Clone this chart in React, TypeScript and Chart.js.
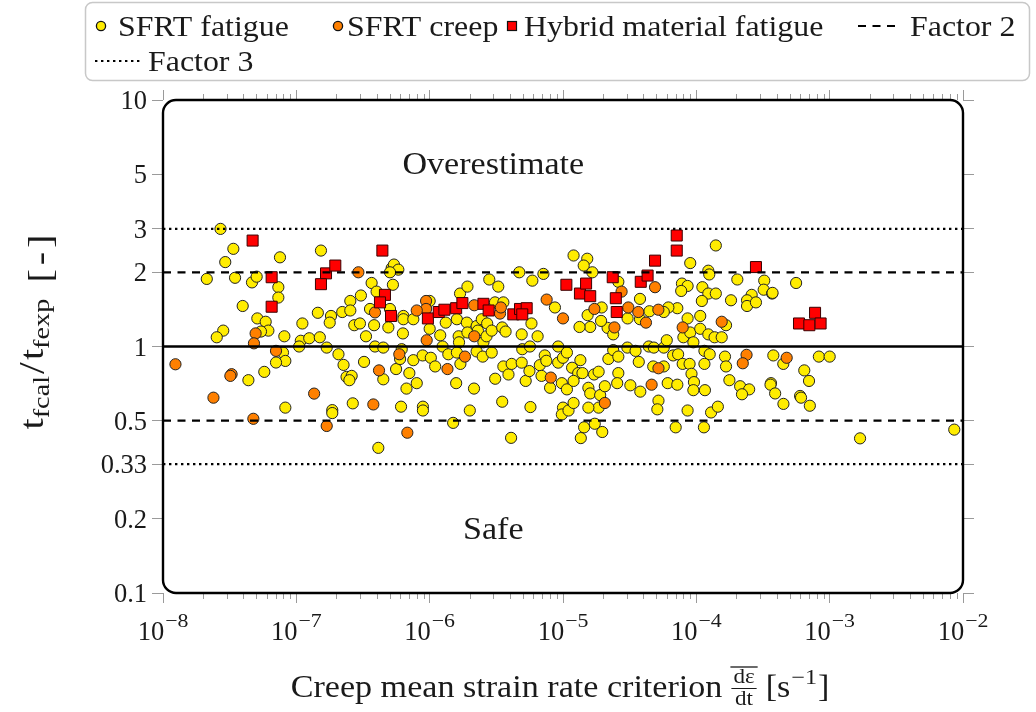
import React, { useEffect, useRef } from 'react';
import { Chart, registerables } from 'chart.js';

Chart.register(...registerables);

// ---------------- data ----------------
const fatigueX = [
  2.7e-8, 3.37e-8, 2.93e-8, 2.13e-8, 3.47e-8, 4.65e-8, 5.04e-8, 7.54e-8, 1.53e-7, 7.33e-8,
  7.33e-8, 3.96e-8, 5.1e-8, 5.89e-8, 6.17e-8, 5.43e-8, 2.83e-8, 2.53e-8, 8.13e-8, 1.11e-7,
  1.45e-7, 1.82e-7, 1.78e-7, 2.21e-7, 2.54e-7, 2.54e-7, 3.05e-7, 2.72e-7, 3.0e-7, 1.08e-7,
  1.25e-7, 1.5e-7, 1.05e-7, 1.69e-7, 2.07e-7, 2.26e-7, 2.38e-7, 2.6e-7, 2.5e-7, 7.94e-8,
  8.27e-8, 7.04e-8, 5.75e-8, 4.37e-8, 8.27e-8, 1.86e-7, 1.86e-7, 2.65e-7,
  3.33e-7, 3.22e-7, 3.67e-7, 4.0e-7, 3.57e-7, 3.83e-7, 3.89e-7, 4.49e-7, 4.49e-7, 4.12e-7,
  5.19e-7, 5.4e-7, 5.82e-7, 5.04e-7, 5.3e-7, 5.04e-7, 4.9e-7, 5.6e-7, 6.17e-7, 6.0e-7,
  6.35e-7, 6.35e-7, 6.3e-7, 6.1e-7, 7.04e-7, 6.7e-7, 7.54e-7, 8.0e-7, 7.54e-7, 8.86e-7,
  8.9e-7, 8.9e-7, 1.02e-6, 1.1e-6, 1.0e-6, 1.0e-6, 1.2e-6, 1.25e-6, 1.32e-6, 1.38e-6,
  1.5e-6, 1.58e-6, 1.65e-6, 1.66e-6, 1.6e-6, 1.7e-6, 1.6e-6, 1.69e-6, 1.92e-6, 1.9e-6,
  1.92e-6, 2.0e-6, 2.15e-6, 2.25e-6, 2.25e-6, 2.3e-6, 2.46e-6, 2.53e-6, 2.5e-6, 2.67e-6,
  2.7e-6, 2.8e-6, 2.92e-6, 2.92e-6, 3.09e-6, 3.1e-6, 3.27e-6, 3.57e-6, 3.5e-6, 3.71e-6,
  3.5e-6, 3.57e-6, 3.9e-6, 4.12e-6, 4.08e-6, 4.7e-6, 4.9e-6, 4.95e-6, 4.9e-6, 5.25e-6,
  5.6e-6, 5.65e-6, 5.7e-6, 5.8e-6, 5.89e-6, 6.45e-6, 6.7e-6, 6.9e-6, 7.13e-6, 7.3e-6,
  7.5e-6, 8.0e-6, 8.7e-6, 9.2e-6, 9.2e-6, 9.8e-6, 1.0e-5, 9.8e-6, 1.0e-5, 1.07e-5,
  1.1e-5, 1.07e-5,
  1.2e-5, 1.52e-5, 1.43e-5, 1.66e-5, 2.6e-5, 1.4e-4, 9.0e-5, 1.23e-4, 1.25e-4, 2.03e-4,
  3.23e-4, 3.2e-4, 3.7e-4, 2.6e-4, 2.4e-4, 2.4e-4, 2.8e-4, 1.82e-4, 1.11e-4, 1.23e-4,
  1.4e-4, 1.1e-4, 7.8e-5, 8.6e-5, 7.7e-5, 1.07e-4, 8.6e-5, 7.2e-5, 6.17e-5, 5.7e-5,
  4.45e-5, 3.78e-5, 3.05e-5, 3.78e-5, 2.16e-5, 2.38e-5, 1.95e-5, 1.93e-5, 1.53e-5, 1.6e-5,
  1.33e-5, 1.35e-5, 1.17e-5, 1.3e-5, 1.4e-5, 1.2e-5, 1.55e-5, 1.71e-5, 1.85e-5, 1.6e-5,
  1.9e-5, 1.85e-5, 1.55e-5, 1.2e-5, 1.44e-5, 1.36e-5, 1.73e-5, 1.97e-5, 2.06e-5, 2.19e-5,
  2.38e-5, 2.6e-5, 2.6e-5, 2.55e-5, 3.04e-5, 3.5e-5, 3.7e-5, 3.2e-5, 3.8e-5, 4.4e-5,
  4.8e-5, 4.75e-5, 5.7e-5, 5.7e-5, 6.0e-5, 5.2e-5, 5.1e-5, 6.1e-5, 7.2e-5, 6.7e-5,
  7.3e-5, 7.9e-5, 8.9e-5, 9.2e-5, 9.6e-5, 9.5e-5, 1.16e-4, 8.6e-5, 7.0e-5, 1.14e-4,
  1.29e-4, 1.45e-4, 1.15e-4, 1.26e-4, 1.15e-4, 1.64e-4, 1.67e-4, 1.77e-4, 2.13e-4, 2.49e-4,
  2.2e-4, 3.63e-4, 8.7e-5, 8.0e-5, 9.0e-5, 1.07e-4, 1.23e-4, 1.37e-4, 1.55e-4, 1.67e-4,
  9.5e-5,
  5.6e-4, 3.73e-4, 3.78e-4, 4.49e-4, 8.3e-4, 1.0e-3, 6.45e-4, 7.0e-4, 3.6e-4, 3.9e-4,
  4.5e-4, 6.0e-4, 6.1e-4, 7.1e-4, 1.69e-3, 8.6e-3,
];
const fatigueY = [
  3.0, 2.49, 2.2, 1.88, 1.9, 1.82, 1.92, 2.3, 2.45, 1.74,
  1.58, 1.46, 1.3, 1.26, 1.16, 1.15, 1.16, 1.09, 1.1, 1.24,
  1.37, 1.33, 1.25, 1.38, 1.53, 1.4, 1.61, 1.22, 1.24, 1.055,
  1.08, 1.09, 1.0, 0.99, 0.93, 0.842, 0.753, 0.76, 0.73, 0.945,
  0.874, 0.861, 0.789, 0.73, 0.565, 0.552, 0.537, 0.588,
  1.1, 0.866, 1.81, 1.67, 1.42, 1.22, 1.0, 0.99, 0.736, 0.388,
  2.08, 2.15, 2.05, 2.0, 1.78, 1.42, 1.195, 0.81, 0.975, 0.89,
  1.33, 1.29, 1.13, 0.57, 0.78, 0.675, 1.29, 0.71, 0.88, 0.92,
  0.57, 0.55, 0.9, 0.83, 1.18, 1.53, 1.11, 1.0, 1.25, 0.93,
  0.49, 0.71, 1.1, 1.04, 0.945, 0.85, 1.29, 1.64, 1.75, 1.25,
  1.14, 0.55, 0.675, 0.955, 1.21, 1.16, 1.29, 1.04, 0.91, 1.1,
  1.24, 1.87, 0.945, 1.16, 1.51, 0.74, 1.75, 1.51, 1.195, 1.15,
  0.597, 0.83, 0.77, 0.85, 0.426, 2.0, 1.12, 0.975, 0.86, 0.725,
  0.795, 1.0, 0.568, 1.24, 1.85, 1.1, 0.84, 0.76, 1.97, 0.92,
  0.875, 0.68, 1.44, 1.0, 0.86, 0.71, 0.565, 0.53, 0.9, 0.945,
  0.55, 0.67,
  2.34, 2.27, 2.13, 2.0, 1.83, 2.57, 2.18, 2.03, 1.96, 1.87,
  1.85, 1.7, 1.64, 1.62, 1.54, 1.46, 1.51, 1.54, 1.74, 1.64,
  1.64, 1.53, 1.8, 1.76, 1.68, 1.33, 1.3, 1.43, 1.44, 1.38,
  1.39, 1.56, 1.3, 1.29, 1.19, 1.12, 1.44, 1.27, 1.34, 1.2,
  1.2, 0.88, 0.82, 0.78, 0.78, 0.725, 0.68, 0.77, 0.79, 0.645,
  0.635, 0.565, 0.565, 0.59, 0.47, 0.425, 0.486, 0.45, 0.69, 0.89,
  0.967, 0.91, 0.78, 0.71, 0.99, 0.96, 0.866, 0.696, 0.656, 1.0,
  0.99, 0.83, 0.83, 0.99, 1.06, 0.603, 0.556, 0.71, 0.7, 0.92,
  0.93, 0.85, 0.85, 0.775, 0.717, 0.665, 0.665, 0.55, 0.47, 0.47,
  0.54, 0.57, 0.96, 0.93, 0.85, 0.91, 0.83, 0.73, 0.69, 0.67,
  0.64, 0.71, 1.12, 1.09, 1.14, 1.18, 1.12, 1.09, 1.09, 1.22,
  1.04,
  1.81, 1.65, 0.92, 0.85, 0.91, 0.91, 0.8, 0.725, 0.7, 0.645,
  0.585, 0.63, 0.62, 0.575, 0.424, 0.46,
];

const creepX = [
  1.24e-8, 2.39e-8, 3.27e-8, 3.2e-8, 4.95e-8, 4.81e-8, 7.04e-8, 4.76e-8, 1.36e-7, 1.69e-7,
  2.92e-7, 3.89e-7, 5.92e-7, 4.17e-7, 3.78e-7, 6.8e-7, 9.4e-7, 9.4e-7, 8.0e-7, 9.5e-7,
  1.36e-6, 1.84e-6, 2.16e-6, 2.16e-6, 3.37e-6, 3.42e-6, 7.54e-6, 1.0e-5, 8.1e-6,
  2.75e-5, 4.9e-5, 1.72e-5, 3.09e-5, 3.67e-5, 5.19e-5, 4.19e-5, 2.43e-5, 7.9e-5, 1.55e-4,
  5.2e-5, 4.62e-5, 2.06e-5, 2.38e-4, 2.23e-4, 4.76e-4,
];
const creepY = [
  0.847, 0.62, 0.772, 0.76, 1.13, 1.03, 0.96, 0.509, 0.644, 0.476,
  2.0, 1.375, 0.93, 0.8, 0.582, 0.447, 1.53, 1.42, 1.4, 1.06,
  0.81, 0.91, 1.1, 1.47, 1.36, 1.44, 1.55, 1.3, 0.748,
  1.67, 1.74, 1.42, 1.44, 1.38, 1.41, 1.25, 1.195, 1.195, 1.26,
  0.816, 0.7, 0.59, 0.925, 0.855, 0.9,
];

const hybridX = [
  4.7e-8, 6.53e-8, 6.53e-8, 1.67e-7, 1.96e-7, 1.53e-7,
  4.42e-7, 4.62e-7, 4.24e-7, 5.13e-7, 9.7e-7, 1.17e-6, 1.29e-6, 1.58e-6, 1.76e-6, 2.53e-6,
  2.77e-6, 4.24e-6, 4.76e-6, 5.34e-6, 4.95e-6, 1.06e-5,
  1.34e-5, 1.49e-5, 1.6e-5, 2.36e-5, 2.49e-5, 2.53e-5, 3.83e-5, 4.31e-5, 4.9e-5, 7.13e-5,
  7.13e-5, 2.8e-4,
  5.89e-4, 7.04e-4, 7.77e-4, 8.55e-4,
];
const hybridY = [
  2.69, 1.91, 1.45, 1.98, 2.13, 1.79,
  2.45, 1.62, 1.51, 1.33, 1.3, 1.38, 1.41, 1.43, 1.5, 1.49,
  1.4, 1.35, 1.42, 1.43, 1.35, 1.78,
  1.64, 1.8, 1.6, 1.91, 1.57, 1.38, 1.83, 1.94, 2.23, 2.82,
  2.45, 2.1,
  1.24, 1.22, 1.37, 1.24,
];

const xRange = [1e-8, 1e-2];
const yRange = [0.1, 10];
const xTickExponents = [-8, -7, -6, -5, -4, -3, -2];
const yTickValues = [0.1, 0.2, 1 / 3, 0.5, 1, 2, 3, 5, 10];
const yTickLabels = ['0.1', '0.2', '0.33', '0.5', '1', '2', '3', '5', '10'];
const factor2Levels = [2, 0.5];
const factor3Levels = [3, 1 / 3];
const unityLevel = 1;
const annotations = [
  { text: 'Overestimate', x: 3e-6, y: 5 },
  { text: 'Safe', x: 3e-6, y: 0.166 },
];

// ---------------- styles ----------------
const FONT = '"Liberation Serif", "Times New Roman", serif';
const TEXT = '#1a1a1a';
const TICK = '#9a9a9a';
const YELLOW = '#FFEC00';
const ORANGE = '#FF8000';
const RED = '#FF0000';
const STRETCH = 1.1;
const DASH = [8, 6.5];
const DOT = [2.4, 3.6];

function setFont(ctx: CanvasRenderingContext2D, size: number) {
  ctx.font = `${size}px ${FONT}`;
}
function measure(ctx: CanvasRenderingContext2D, s: string, size: number, stretch = 1) {
  ctx.save();
  setFont(ctx, size);
  const w = ctx.measureText(s).width * stretch;
  ctx.restore();
  return w;
}
function drawText(
  ctx: CanvasRenderingContext2D,
  s: string,
  x: number,
  y: number,
  size: number,
  align: 'left' | 'center' | 'right' = 'left',
  stretch = 1
) {
  const w = measure(ctx, s, size, stretch);
  const x0 = align === 'center' ? x - w / 2 : align === 'right' ? x - w : x;
  ctx.save();
  setFont(ctx, size);
  ctx.translate(x0, y);
  ctx.scale(stretch, 1);
  ctx.textAlign = 'left';
  ctx.textBaseline = 'alphabetic';
  ctx.fillStyle = TEXT;
  ctx.fillText(s, 0, 0);
  ctx.restore();
  return w;
}

function circleMarker(ctx: CanvasRenderingContext2D, x: number, y: number, r: number, fill: string) {
  ctx.beginPath();
  ctx.arc(x, y, r, 0, Math.PI * 2);
  ctx.fillStyle = fill;
  ctx.fill();
  ctx.lineWidth = 1.3;
  ctx.strokeStyle = '#111';
  ctx.stroke();
}

const decorPlugin = {
  id: 'decor',
  afterDraw(chart: any) {
    const ctx: CanvasRenderingContext2D = chart.ctx;
    const a = chart.chartArea;
    const xs = chart.scales.x;
    const ys = chart.scales.y;
    ctx.save();

    // minor x ticks (bottom and top)
    ctx.strokeStyle = TICK;
    ctx.lineWidth = 1;
    for (let e = -8; e < -2; e++) {
      for (let m = 2; m <= 9; m++) {
        const px = Math.round(xs.getPixelForValue(m * Math.pow(10, e))) + 0.5;
        ctx.beginPath();
        ctx.moveTo(px, a.bottom);
        ctx.lineTo(px, a.bottom + 6);
        ctx.moveTo(px, a.top);
        ctx.lineTo(px, a.top - 6);
        ctx.stroke();
      }
    }

    // rounded frame
    ctx.strokeStyle = '#000';
    ctx.lineWidth = 2.4;
    ctx.beginPath();
    (ctx as any).roundRect(a.left, a.top, a.right - a.left, a.bottom - a.top, 13);
    ctx.stroke();

    // y tick labels
    yTickValues.forEach((v, i) => {
      const py = ys.getPixelForValue(v);
      drawText(ctx, yTickLabels[i], a.left - 16, py + 9, 26.5, 'right');
    });

    // x tick labels 10^e
    xTickExponents.forEach((e) => {
      const px = xs.getPixelForValue(Math.pow(10, e));
      const sup = '\u2212' + String(-e);
      const w1 = measure(ctx, '10', 26.5);
      const w2 = measure(ctx, sup, 19, 1.15);
      const x0 = px - (w1 + 1 + w2) / 2;
      drawText(ctx, '10', x0, a.bottom + 47, 26.5);
      drawText(ctx, sup, x0 + w1 + 1, a.bottom + 34, 19, 'left', 1.15);
    });

    // annotations
    annotations.forEach((an) => {
      drawText(ctx, an.text, xs.getPixelForValue(an.x), ys.getPixelForValue(an.y), 31, 'center', STRETCH);
    });

    // x axis title
    {
      const main = 'Creep mean strain rate criterion';
      const sMain = 31;
      const wMain = measure(ctx, main, sMain, STRETCH);
      const wNum = measure(ctx, 'd\u03B5', 21, STRETCH);
      const wDen = measure(ctx, 'dt', 21, STRETCH);
      const wFrac = Math.max(wNum, wDen) + 4;
      const wOpen = measure(ctx, '[s', sMain, STRETCH);
      const wSup = measure(ctx, '\u22121', 21, 1.15);
      const wClose = measure(ctx, ']', sMain, STRETCH);
      const gap = 9;
      const total = wMain + gap + wFrac + gap + wOpen + 1 + wSup + 1 + wClose;
      let x = (a.left + a.right) / 2 - 3 - total / 2;
      const base = 697;
      drawText(ctx, main, x, base, sMain, 'left', STRETCH);
      x += wMain + gap;
      const fc = x + wFrac / 2;
      drawText(ctx, 'd\u03B5', fc, base - 14, 21, 'center', STRETCH);
      drawText(ctx, 'dt', fc, base + 8, 21, 'center', STRETCH);
      ctx.strokeStyle = TEXT;
      ctx.lineWidth = 1;
      ctx.beginPath();
      ctx.moveTo(x, base - 8.5);
      ctx.lineTo(x + wFrac, base - 8.5);
      ctx.stroke();
      ctx.lineWidth = 1.3;
      ctx.beginPath();
      ctx.moveTo(x - 1, base - 30);
      ctx.lineTo(x + wFrac + 1, base - 30);
      ctx.stroke();
      x += wFrac + gap;
      drawText(ctx, '[s', x, base, sMain, 'left', STRETCH);
      x += wOpen + 1;
      drawText(ctx, '\u22121', x, base - 13, 21, 'left', 1.15);
      x += wSup + 1;
      drawText(ctx, ']', x, base, sMain, 'left', STRETCH);
    }

    // y axis title (rotated)
    {
      const YS = 1.18;
      const parts = [
        { t: 't', s: 34, dy: 0, gap: 0 },
        { t: 'fcal', s: 24, dy: 6, gap: 2 },
        { t: '/', s: 36, dy: 1, gap: 2 },
        { t: 't', s: 34, dy: 0, gap: 0 },
        { t: 'fexp', s: 24, dy: 6, gap: 16 },
        { t: '[', s: 34, dy: 8, gap: 4 },
        { t: '-', s: 34, dy: 8, gap: 4 },
        { t: ']', s: 34, dy: 8, gap: 0 },
      ];
      const widths = parts.map((p) => measure(ctx, p.t, p.s, YS) + p.gap);
      const total = widths.reduce((s, w) => s + w, 0);
      ctx.save();
      ctx.translate(43, 332);
      ctx.rotate(-Math.PI / 2);
      let x = -total / 2;
      parts.forEach((p, i) => {
        drawText(ctx, p.t, x, p.dy, p.s, 'left', YS);
        x += widths[i];
      });
      ctx.restore();
    }

    // legend
    {
      ctx.strokeStyle = '#c8c8c8';
      ctx.lineWidth = 1.5;
      ctx.beginPath();
      (ctx as any).roundRect(85.5, 2.5, 944, 78, 7);
      ctx.stroke();
      const row1 = 26;
      const row2 = 61;
      const fs = 29;
      circleMarker(ctx, 101, row1, 4.6, YELLOW);
      drawText(ctx, 'SFRT fatigue', 118, row1 + 10, fs, 'left', STRETCH);
      circleMarker(ctx, 338, row1, 4.6, ORANGE);
      drawText(ctx, 'SFRT creep', 347, row1 + 10, fs, 'left', STRETCH);
      ctx.fillStyle = RED;
      ctx.fillRect(507.5, row1 - 4.5, 9, 9);
      ctx.lineWidth = 1.2;
      ctx.strokeStyle = '#111';
      ctx.strokeRect(507.5, row1 - 4.5, 9, 9);
      drawText(ctx, 'Hybrid material fatigue', 524, row1 + 10, fs, 'left', STRETCH);
      ctx.strokeStyle = '#000';
      ctx.lineWidth = 2.2;
      ctx.setLineDash(DASH);
      ctx.beginPath();
      ctx.moveTo(858, row1);
      ctx.lineTo(896, row1);
      ctx.stroke();
      drawText(ctx, 'Factor 2', 910, row1 + 10, fs, 'left', STRETCH);
      ctx.setLineDash(DOT);
      ctx.beginPath();
      ctx.moveTo(95, row2);
      ctx.lineTo(141, row2);
      ctx.stroke();
      ctx.setLineDash([]);
      drawText(ctx, 'Factor 3', 148, row2 + 10, fs, 'left', STRETCH);
    }

    ctx.restore();
  },
};

function toPoints(xs: number[], ys: number[]) {
  return xs.map((x, i) => ({ x, y: ys[i] }));
}
function hLine(level: number) {
  return [
    { x: xRange[0], y: level },
    { x: xRange[1], y: level },
  ];
}

export default function App() {
  const ref = useRef<HTMLCanvasElement | null>(null);

  useEffect(() => {
    const canvas = ref.current;
    if (!canvas) return;
    const lineBase = { type: 'line' as const, pointRadius: 0, fill: false, borderColor: '#000', order: 0 };
    const tickGrid = (len: number) => ({
      display: true,
      drawOnChartArea: false,
      drawTicks: true,
      tickLength: len,
      tickColor: TICK,
      tickWidth: 1,
    });
    const chart = new Chart(canvas, {
      type: 'scatter',
      data: {
        datasets: [
          { ...lineBase, label: 'unity', data: hLine(unityLevel), borderWidth: 2.6 },
          { ...lineBase, label: 'Factor 2', data: hLine(factor2Levels[0]), borderWidth: 2.2, borderDash: DASH },
          { ...lineBase, label: 'Factor 2 low', data: hLine(factor2Levels[1]), borderWidth: 2.2, borderDash: DASH },
          { ...lineBase, label: 'Factor 3', data: hLine(factor3Levels[0]), borderWidth: 2.4, borderDash: DOT },
          { ...lineBase, label: 'Factor 3 low', data: hLine(factor3Levels[1]), borderWidth: 2.4, borderDash: DOT },
          {
            label: 'Hybrid material fatigue',
            data: toPoints(hybridX, hybridY),
            pointStyle: 'rect',
            pointRadius: 7.8,
            backgroundColor: RED,
            borderColor: '#3a0000',
            borderWidth: 1,
            order: 1,
          },
          {
            label: 'SFRT creep',
            data: toPoints(creepX, creepY),
            pointStyle: 'circle',
            pointRadius: 5.6,
            backgroundColor: ORANGE,
            borderColor: '#222',
            borderWidth: 1,
            order: 2,
          },
          {
            label: 'SFRT fatigue',
            data: toPoints(fatigueX, fatigueY),
            pointStyle: 'circle',
            pointRadius: 5.6,
            backgroundColor: YELLOW,
            borderColor: '#222',
            borderWidth: 1,
            order: 3,
          },
        ] as any,
      },
      options: {
        responsive: false,
        animation: false,
        events: [],
        layout: { padding: 0 },
        plugins: { legend: { display: false }, tooltip: { enabled: false }, title: { display: false } },
        scales: {
          x: {
            type: 'logarithmic',
            axis: 'x',
            position: 'bottom',
            min: xRange[0],
            max: xRange[1],
            ticks: { display: false },
            grid: tickGrid(10),
            border: { display: false },
            afterBuildTicks: (s: any) => {
              s.ticks = xTickExponents.map((e) => ({ value: Math.pow(10, e), major: true }));
            },
            afterFit: (s: any) => {
              s.height = 119;
            },
          },
          x2: {
            type: 'logarithmic',
            axis: 'x',
            position: 'top',
            min: xRange[0],
            max: xRange[1],
            ticks: { display: false },
            grid: tickGrid(10),
            border: { display: false },
            afterBuildTicks: (s: any) => {
              s.ticks = xTickExponents.map((e) => ({ value: Math.pow(10, e), major: true }));
            },
            afterFit: (s: any) => {
              s.height = 100;
            },
          },
          y: {
            type: 'logarithmic',
            axis: 'y',
            position: 'left',
            min: yRange[0],
            max: yRange[1],
            ticks: { display: false },
            grid: tickGrid(11),
            border: { display: false },
            afterBuildTicks: (s: any) => {
              s.ticks = yTickValues.map((v) => ({ value: v }));
            },
            afterFit: (s: any) => {
              s.width = 163;
            },
          },
          y2: {
            type: 'logarithmic',
            axis: 'y',
            position: 'right',
            min: yRange[0],
            max: yRange[1],
            ticks: { display: false },
            grid: tickGrid(11),
            border: { display: false },
            afterBuildTicks: (s: any) => {
              s.ticks = yTickValues.map((v) => ({ value: v }));
            },
            afterFit: (s: any) => {
              s.width = 73;
            },
          },
        },
      } as any,
      plugins: [decorPlugin as any],
    });
    return () => chart.destroy();
  }, []);

  return (
    <div style={{ position: 'fixed', left: 0, top: 0, width: 1036, height: 712, background: '#fff' }}>
      <canvas ref={ref} width={1036} height={712} style={{ display: 'block', width: 1036, height: 712 }} />
    </div>
  );
}
